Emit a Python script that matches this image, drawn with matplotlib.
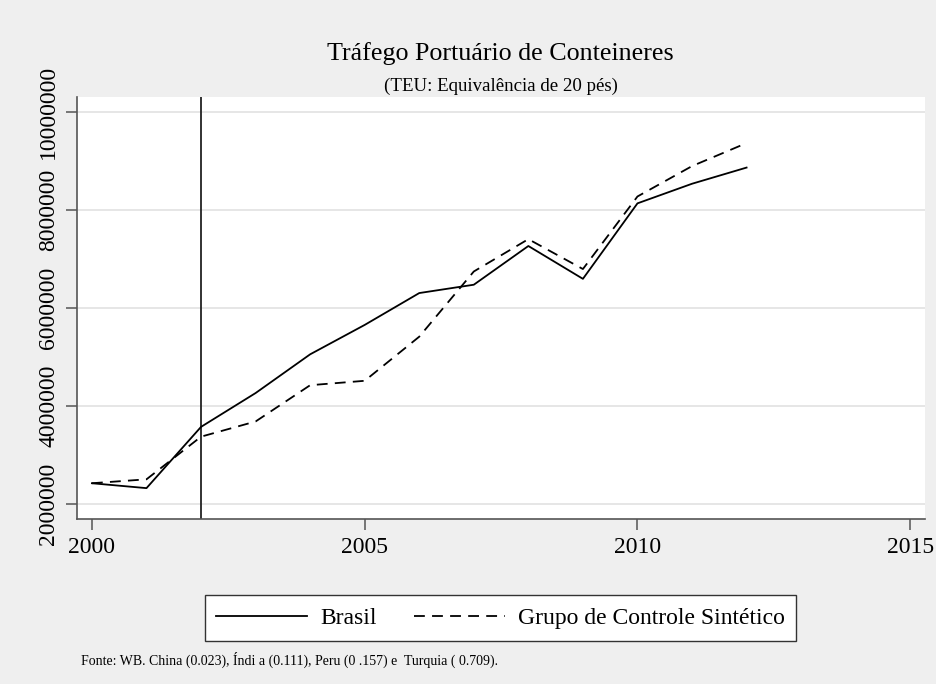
import matplotlib
matplotlib.use("Agg")
import matplotlib.pyplot as plt
import numpy as np

years = [2000, 2001, 2002, 2003, 2004, 2005, 2006, 2007, 2008, 2009, 2010, 2011, 2012]
brasil = [2430000, 2330000, 3580000, 4270000, 5060000, 5660000, 6310000, 6480000,
          7270000, 6600000, 8140000, 8540000, 8870000]
sintetico = [2430000, 2510000, 3380000, 3690000, 4430000, 4520000, 5420000, 6750000,
             7410000, 6800000, 8280000, 8900000, 9370000]
xticks = [2000, 2005, 2010, 2015]
yticks = [2000000, 4000000, 6000000, 8000000, 10000000]
treat_year = 2002

plt.rcParams['font.family'] = ['Liberation Serif', 'DejaVu Serif']

bg = '#efefef'
fig = plt.figure(figsize=(9.36, 6.84), dpi=100, facecolor=bg)
ax = fig.add_axes([0.0819, 0.2412, 0.9063, 0.6170])
ax.set_facecolor('white')

for y in yticks:
    ax.axhline(y, color='#e6e6e6', lw=1.4, zorder=0)

ax.axvline(treat_year, color='#222222', lw=1.3, zorder=2)
l1, = ax.plot(years, brasil, color='black', lw=1.3, label='Brasil', zorder=3)
l2, = ax.plot(years, sintetico, color='black', lw=1.3, ls=(0, (6, 4)),
              label='Grupo de Controle Sintético', zorder=3)

ax.set_xlim(1999.72, 2015.27)
ax.set_ylim(1.70e6, 10.31e6)
ax.set_xticks(xticks)
ax.set_xticklabels([str(x) for x in xticks])
ax.set_yticks(yticks)
ax.set_yticklabels([str(y) for y in yticks], rotation=90, va='center')

for s in ['top', 'right']:
    ax.spines[s].set_visible(False)
for s in ['left', 'bottom']:
    ax.spines[s].set_color('#555555')
    ax.spines[s].set_linewidth(1.2)

ax.tick_params(axis='both', direction='out', length=8, width=1.1, color='#555555',
               labelsize=17)
ax.tick_params(axis='x', pad=5)
ax.tick_params(axis='y', pad=4.5)

fig.text(0.5347, 1 - 54 / 684, 'Tráfego Portuário de Conteineres', ha='center', va='center',
         fontsize=18.7, color='black')
fig.text(0.5347, 1 - 86 / 684, '(TEU: Equivalência de 20 pés)', ha='center', va='center',
         fontsize=13.6, color='black')

leg = fig.legend(handles=[l1, l2], loc='center', bbox_to_anchor=(0.5347, 1 - 618 / 684),
                 ncol=2, frameon=True, fancybox=False, fontsize=17,
                 handlelength=3.85, handletextpad=0.55, columnspacing=1.57,
                 borderpad=0.5, borderaxespad=0)
leg.get_frame().set_edgecolor('#333333')
leg.get_frame().set_linewidth(1.0)
leg.get_frame().set_facecolor('white')
leg.get_frame().set_alpha(1)

fig.text(81 / 936, 1 - 660 / 684,
         'Fonte: WB. China (0.023), Índi a (0.111), Peru (0 .157) e  Turquia ( 0.709).',
         ha='left', va='center', fontsize=10, color='black')

fig.savefig('out.png', dpi=100, facecolor=bg)
